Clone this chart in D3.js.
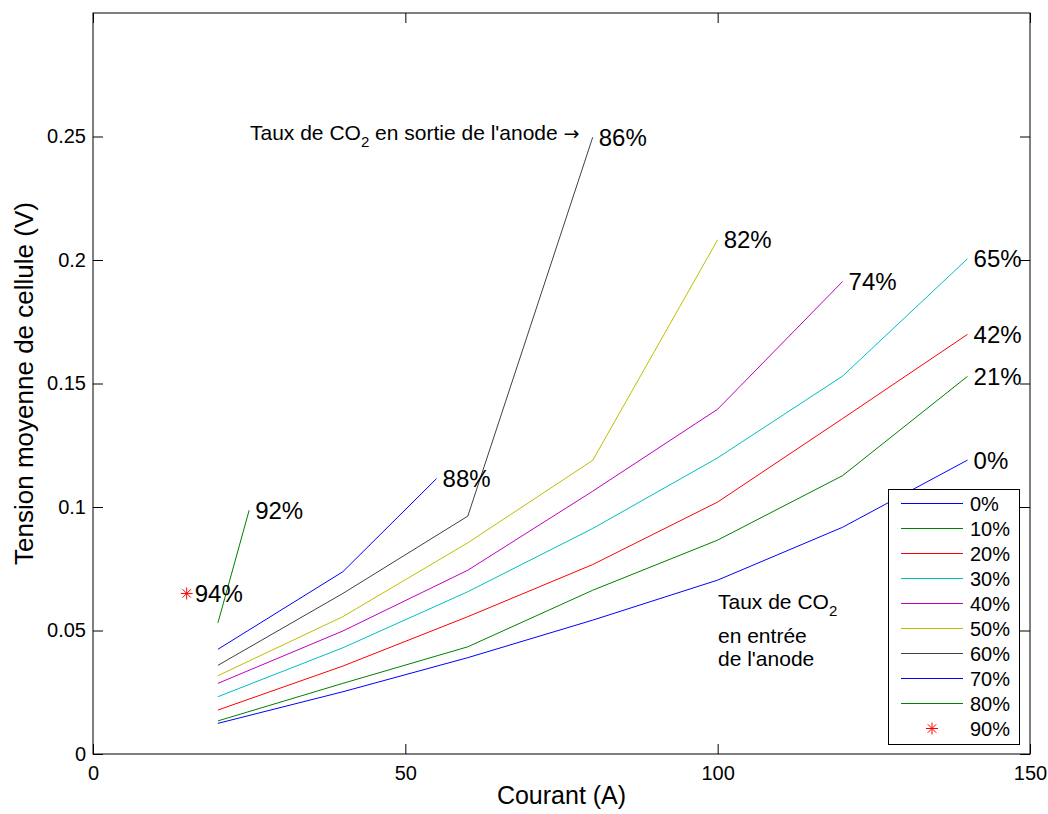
<!DOCTYPE html>
<html>
<head>
<meta charset="utf-8">
<script src="https://cdn.jsdelivr.net/npm/d3@7"></script>
<style>
  html, body { margin: 0; padding: 0; background: #fff; }
  svg { display: block; font-family: "Liberation Sans", Arial, Helvetica, sans-serif; }
</style>
</head>
<body>
<svg id="chart" width="1048" height="814"></svg>
<script>
// ---- data ----
const inletLabels = ["0%", "10%", "20%", "30%", "40%", "50%", "60%", "70%", "80%", "90%"];
const outletLabels = ["0%", "21%", "42%", "65%", "74%", "82%", "86%", "88%", "92%", "94%"];
const currents = [20, 40, 60, 80, 100, 120, 140];
const currents40 = [20, 40, 60, 80, 100, 120];
const currents50 = [20, 40, 60, 80, 100];
const currents60 = [20, 40, 60, 80];
const currents70 = [20, 40, 55];
const currents80 = [20, 25];
const currents90 = [15];
const s0  = [0.0124, 0.0252, 0.0390, 0.0542, 0.0704, 0.0918, 0.1190];
const s10 = [0.0134, 0.0286, 0.0434, 0.0663, 0.0866, 0.1127, 0.1529];
const s20 = [0.0178, 0.0356, 0.0556, 0.0767, 0.1020, 0.1358, 0.1699];
const s30 = [0.0232, 0.0430, 0.0657, 0.0913, 0.1199, 0.1530, 0.2005];
const s40 = [0.0286, 0.0498, 0.0744, 0.1064, 0.1396, 0.1913];
const s50 = [0.0317, 0.0556, 0.0855, 0.1189, 0.2082];
const s60 = [0.0359, 0.0650, 0.0963, 0.2497];
const s70 = [0.0424, 0.0738, 0.1115];
const s80 = [0.0531, 0.0987];
const s90 = [0.065];
const xTicks = [0, 50, 100, 150];
const yTicks = [0, 0.05, 0.1, 0.15, 0.2, 0.25];

const series = [
  { xs: currents,   ys: s0,  color: "#0000ff" },
  { xs: currents,   ys: s10, color: "#008000" },
  { xs: currents,   ys: s20, color: "#ff0000" },
  { xs: currents,   ys: s30, color: "#00bfbf" },
  { xs: currents40, ys: s40, color: "#bf00bf" },
  { xs: currents50, ys: s50, color: "#bfbf00" },
  { xs: currents60, ys: s60, color: "#404040" },
  { xs: currents70, ys: s70, color: "#0000ff" },
  { xs: currents80, ys: s80, color: "#008000" },
  { xs: currents90, ys: s90, color: "#ff0000", marker: true }
].map((s, i) => ({ ...s, name: inletLabels[i], outlet: outletLabels[i],
  pts: s.xs.map((x, j) => [x, s.ys[j]]) }));

// ---- layout ----
const L = 93, R = 1030, T = 13, B = 754;
const svg = d3.select("#chart");
const x = d3.scaleLinear().domain([0, 150]).range([L, R]);
const y = d3.scaleLinear().domain([0, 0.3]).range([B, T]);

svg.append("rect").attr("x", 0).attr("y", 0).attr("width", 1048).attr("height", 814).attr("fill", "#fff");

// axes (ticks inward, all four sides)
const tl = 10;
const fmtY = d => d === 0 ? "0" : String(+d.toFixed(2));
svg.append("g").attr("transform", `translate(0,${B})`)
  .call(d3.axisBottom(x).tickValues(xTicks).tickSize(-tl).tickPadding(8).tickFormat(d3.format("d")))
  .call(g => g.select(".domain").remove())
  .call(g => g.selectAll("text").attr("font-size", 20).attr("font-family", "Liberation Sans, Arial, sans-serif").attr("dy", "0.75em").attr("y", 11));
svg.append("g").attr("transform", `translate(0,${T})`)
  .call(d3.axisTop(x).tickValues(xTicks).tickSize(-tl).tickFormat(""))
  .call(g => g.select(".domain").remove());
svg.append("g").attr("transform", `translate(${L},0)`)
  .call(d3.axisLeft(y).tickValues(yTicks).tickSize(-tl).tickPadding(8).tickFormat(fmtY))
  .call(g => g.select(".domain").remove())
  .call(g => g.selectAll("text").attr("font-size", 20).attr("font-family", "Liberation Sans, Arial, sans-serif").attr("x", -7));
svg.append("g").attr("transform", `translate(${R},0)`)
  .call(d3.axisRight(y).tickValues(yTicks).tickSize(-tl).tickFormat(""))
  .call(g => g.select(".domain").remove());
svg.selectAll(".tick line").attr("stroke", "#000");
svg.selectAll(".tick text").attr("fill", "#000");

// frame
svg.append("rect").attr("x", L).attr("y", T).attr("width", R - L).attr("height", B - T)
  .attr("fill", "none").attr("stroke", "#000").attr("stroke-width", 1);

// lines
const line = d3.line().x(d => x(d[0])).y(d => y(d[1]));
const starPath = r => {
  const a = r * Math.SQRT1_2;
  return `M${-r},0L${r},0M0,${-r}L0,${r}M${-a},${-a}L${a},${a}M${-a},${a}L${a},${-a}`;
};
series.forEach(s => {
  if (s.marker) {
    svg.selectAll(null).data(s.pts).enter().append("path")
      .attr("transform", d => `translate(${x(d[0])},${y(d[1])})`)
      .attr("d", starPath(6)).attr("stroke", s.color).attr("stroke-width", 1).attr("fill", "none");
  } else {
    svg.append("path").datum(s.pts).attr("d", line)
      .attr("fill", "none").attr("stroke", s.color).attr("stroke-width", 1);
  }
  const last = s.pts[s.pts.length - 1];
  svg.append("text").attr("x", x(last[0]) + (s.marker ? 8 : 6)).attr("y", y(last[1]) + 8.5)
    .attr("font-size", 24).attr("fill", "#000").text(s.outlet);
});

// annotations
const a1 = svg.append("text").attr("x", 250).attr("y", 140).attr("font-size", 21).attr("fill", "#000");
a1.append("tspan").text("Taux de CO");
a1.append("tspan").attr("font-size", 15).attr("dy", 7).text("2");
a1.append("tspan").attr("dy", -7).text(" en sortie de l'anode ");
a1.append("tspan").attr("font-family", "DejaVu Sans").attr("font-size", 19).text("\u2192");

const a2 = svg.append("text").attr("x", 718).attr("y", 609).attr("font-size", 21).attr("fill", "#000");
a2.append("tspan").text("Taux de CO");
a2.append("tspan").attr("font-size", 15).attr("dy", 7).text("2");
svg.append("text").attr("x", 718).attr("y", 643).attr("font-size", 21).attr("fill", "#000").text("en entrée");
svg.append("text").attr("x", 718).attr("y", 666).attr("font-size", 21).attr("fill", "#000").text("de l'anode");

// axis labels
svg.append("text").attr("x", (L + R) / 2).attr("y", 804).attr("text-anchor", "middle")
  .attr("font-size", 25).attr("fill", "#000").text("Courant (A)");
svg.append("text").attr("transform", `translate(33,${(T + B) / 2}) rotate(-90)`).attr("text-anchor", "middle")
  .attr("font-size", 26).attr("fill", "#000").text("Tension moyenne de cellule (V)");

// legend
const lg = svg.append("g");
lg.append("rect").attr("x", 888.5).attr("y", 489.5).attr("width", 131).attr("height", 255)
  .attr("fill", "#fff").attr("stroke", "#000").attr("stroke-width", 1);
series.forEach((s, i) => {
  const cy = 503.5 + i * 25;
  if (s.marker) {
    lg.append("path").attr("transform", `translate(932,${cy})`).attr("d", starPath(6))
      .attr("stroke", s.color).attr("fill", "none");
  } else {
    lg.append("line").attr("x1", 901).attr("x2", 963).attr("y1", cy).attr("y2", cy)
      .attr("stroke", s.color).attr("stroke-width", 1);
  }
  lg.append("text").attr("x", 970).attr("y", cy + 7.5).attr("font-size", 20).attr("fill", "#000").text(s.name);
});
</script>
</body>
</html>
